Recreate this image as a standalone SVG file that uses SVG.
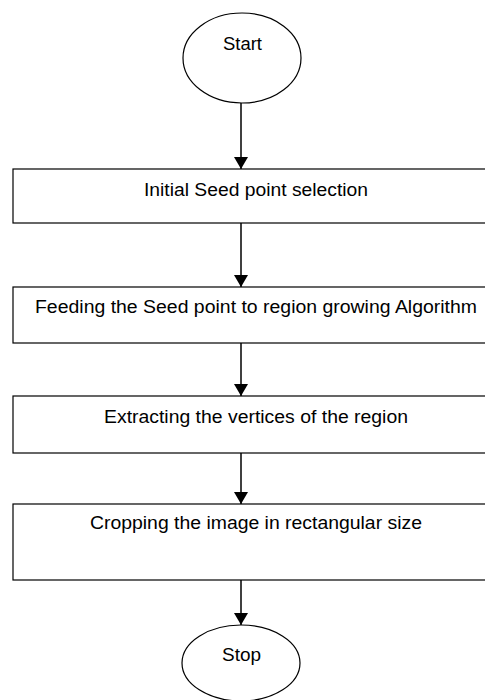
<svg xmlns="http://www.w3.org/2000/svg" width="485" height="700" viewBox="0 0 485 700">
  <style>
    .shape { fill: #ffffff; stroke: #000000; stroke-width: 1.2; }
    .label { font-family: "Liberation Sans", Arial, sans-serif; font-size: 17.5px; fill: #000000; text-anchor: middle; }
    .edge { stroke: #000000; stroke-width: 1.5; fill: none; marker-end: url(#arrow); }
  </style>
  <defs>
    <marker id="arrow" viewBox="0 0 12 14" refX="12" refY="7" markerWidth="12" markerHeight="14" markerUnits="userSpaceOnUse" orient="auto">
      <path d="M0,0 L12,7 L0,14 Z" fill="#000000"/>
    </marker>
  </defs>
  <rect width="485" height="700" fill="#ffffff"/>

  <g id="connectors">
    <line class="edge" x1="241" y1="103" x2="241" y2="169"/>
    <line class="edge" x1="241" y1="223" x2="241" y2="287"/>
    <line class="edge" x1="241" y1="343" x2="241" y2="396"/>
    <line class="edge" x1="241" y1="453" x2="241" y2="504"/>
    <line class="edge" x1="241" y1="580" x2="241" y2="625"/>
  </g>

  <g id="start">
    <ellipse class="shape" cx="242" cy="58" rx="59" ry="45"/>
    <text class="label" x="242.5" y="50" textLength="39" lengthAdjust="spacingAndGlyphs">Start</text>
  </g>

  <g id="seed-selection">
    <rect class="shape" x="13" y="169" width="480" height="54"/>
    <text class="label" x="256" y="196" textLength="224" lengthAdjust="spacingAndGlyphs">Initial Seed point selection</text>
  </g>

  <g id="region-growing">
    <rect class="shape" x="13" y="287" width="480" height="56"/>
    <text class="label" x="256" y="313" textLength="442" lengthAdjust="spacingAndGlyphs">Feeding the Seed point to region growing Algorithm</text>
  </g>

  <g id="extract-vertices">
    <rect class="shape" x="13" y="396" width="480" height="57"/>
    <text class="label" x="256" y="423" textLength="304" lengthAdjust="spacingAndGlyphs">Extracting the vertices of the region</text>
  </g>

  <g id="crop-image">
    <rect class="shape" x="13" y="504" width="480" height="76"/>
    <text class="label" x="256" y="529" textLength="332" lengthAdjust="spacingAndGlyphs">Cropping the image in rectangular size</text>
  </g>

  <g id="stop">
    <ellipse class="shape" cx="241" cy="663" rx="59" ry="38"/>
    <text class="label" x="241.5" y="661" textLength="39" lengthAdjust="spacingAndGlyphs">Stop</text>
  </g>
</svg>
